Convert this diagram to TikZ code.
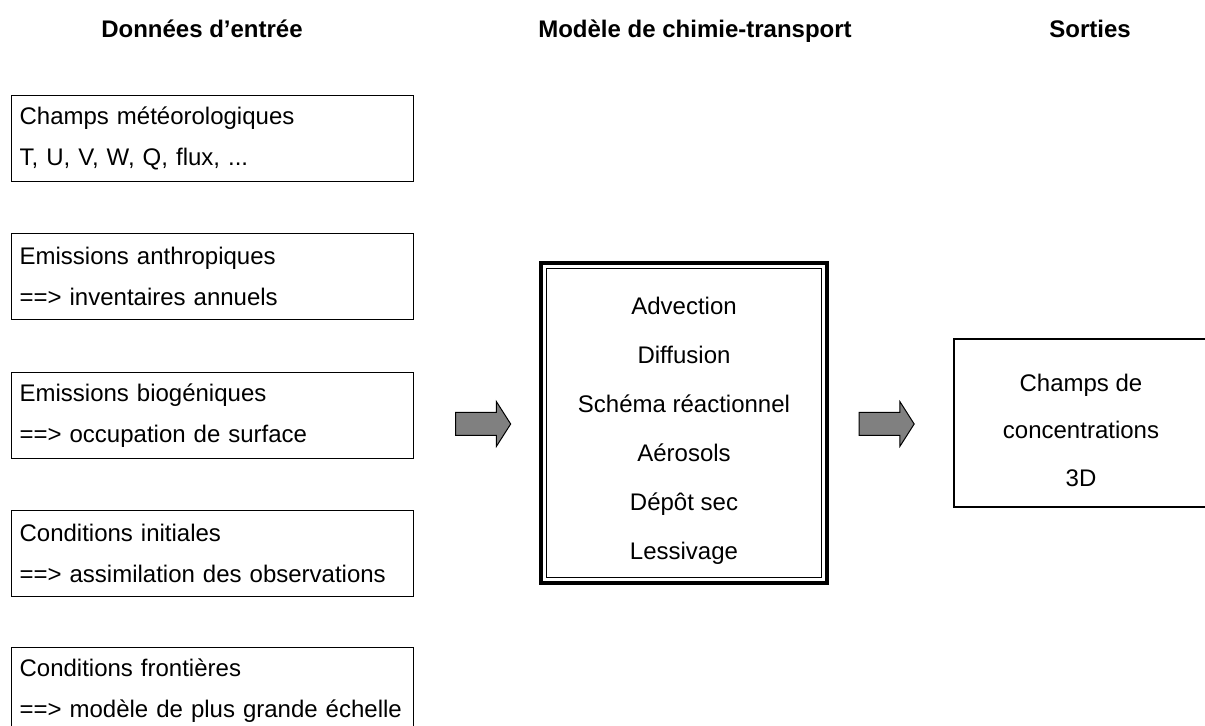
\documentclass[tikz,border=0pt]{standalone}
\usepackage{fontspec}
\setmainfont{Liberation Sans}
\usetikzlibrary{shapes.arrows}

\begin{document}
\begin{tikzpicture}[x=0.5pt, y=-0.5pt,
        title/.style={anchor=base, font=\bfseries\fontsize{12}{14}\selectfont},
        inbox/.style={draw, line width=0.6pt, anchor=north west, text width=193pt, minimum height=43pt, inner xsep=4pt, inner ysep=0pt, align=left, font=\fontsize{12}{20.5}\selectfont},
        model/.style={draw, line width=2pt, outer sep=0pt, minimum width=143pt, minimum height=160pt},
        outbox/.style={draw, line width=0.6pt, minimum width=127pt, minimum height=84pt},
        listtext/.style={align=center, inner sep=0pt, font=\fontsize{12}{24.5}\selectfont},
        bigarrow/.style={single arrow, draw, fill=gray, line width=0.5pt, inner xsep=0pt, inner ysep=5.5pt, minimum height=27.5pt, single arrow head extend=5.5pt, single arrow tip angle=115}]
        \useasboundingbox (0,0) rectangle (1205,726);

        \node[title] (hin) at (202,38) {Données d’entrée};
        \node[title] (hmod) at (695,38) {Modèle de chimie-transport};
        \node[title] (hout) at (1090,38) {Sorties};

        \node[inbox] (meteo) at (11,95) {Champs météorologiques\\T, U, V, W, Q, flux, ...};
        \node[inbox] (anthro) at (11,233) {Emissions anthropiques\\==> inventaires annuels};
        \node[inbox] (bio) at (11,372) {Emissions biogéniques\\==> occupation de surface};
        \node[inbox] (init) at (11,510) {Conditions initiales\\==> assimilation des observations};
        \node[inbox] (bound) at (11,647) {Conditions frontières\\==> modèle de plus grande échelle};

        \node[model] (ctm) at (684,423.5) {};
        \draw[line width=0.5pt] ([shift={(5.5,5.5)}]ctm.north west) rectangle ([shift={(-5.5,-5.5)}]ctm.south east);
        \node[listtext] (proc) at ([yshift=-3.5pt]ctm.center) {Advection\\Diffusion\\Schéma réactionnel\\Aérosols\\Dépôt sec\\Lessivage};

        \node[outbox] (conc) at (1081,423) {};
        \node[listtext, font=\fontsize{12}{23.75}\selectfont] (conctext) at ([yshift=-3.5pt]conc.center) {Champs de\\concentrations\\3D};

        \node[bigarrow] (arrin) at (479.5,424) {};
        \node[bigarrow] (arrout) at (883,424) {};
    \end{tikzpicture}
\end{document}
